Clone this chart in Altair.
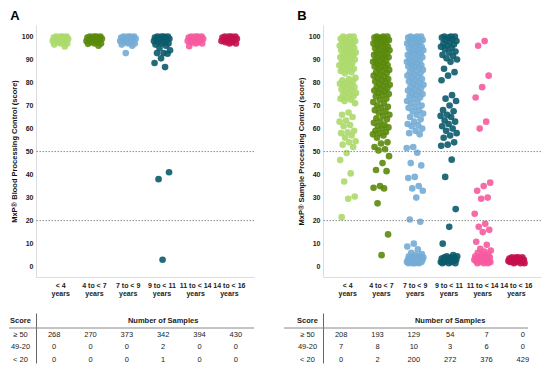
import altair as alt
import pandas as pd

cats = ["< 4 years", "4 to < 7 years", "7 to < 9 years", "9 to < 11 years",
        "11 to < 14 years", "14 to < 16 years"]
colors = ["#acd96b", "#5a8a0b", "#74acd6", "#0b5b6c", "#f65a9e", "#c4114d"]
row_labels = ["≥ 50", "49-20", "< 20"]
ref_lines = [50, 20]

# ---------- Panel A: MxP Blood Processing Control ----------
a_lt4 = [100, 100, 100, 100, 99.5, 99.5, 99, 99, 99, 98.5, 98.5, 98, 98, 97.5, 97.5, 97, 97, 96.5, 95.7]
a_4to7 = [100, 100, 100, 100, 99.5, 99.5, 99, 99, 99, 98.5, 98.5, 98, 98, 97.5, 97.5, 97, 97, 96.8, 96]
a_7to9 = [100, 100, 100, 100, 99.5, 99.5, 99, 99, 99, 98.5, 98.5, 98, 98, 97.5, 97.5, 97, 97, 96.5, 96, 92.8]
a_9to11 = [100, 100, 100, 100, 99.5, 99.5, 99, 99, 99, 98.5, 98.5, 98, 98, 97.5, 97.5, 97, 97, 96.5, 96,
           95, 94, 92.8, 92.8, 92.5, 90.5, 88.5, 86.7, 38, 41, 3]
a_11to14 = [100, 100, 100, 100, 99.5, 99.5, 99, 99, 99, 98.5, 98.5, 98, 98, 97.5, 97.5, 97, 97, 95.8]
a_14to16 = [100, 100, 100, 100, 99.5, 99.5, 99, 99, 99, 98.5, 98.5, 98, 98, 97.5, 97.5, 97, 97]
a_ge50 = [268, 270, 373, 342, 394, 430]
a_mid = [0, 0, 0, 2, 0, 0]
a_lt20 = [0, 0, 0, 1, 0, 0]

# ---------- Panel B: MxP Sample Processing Control ----------
b_lt4 = [100, 100, 100, 99.5, 99, 99, 98.5, 98, 98, 97.5, 97, 96.5, 96, 96, 95.5, 95, 94.5, 94, 94,
         93.5, 93, 92.5, 92, 92, 91.5, 91, 90.5, 90, 90, 89.5, 89, 88.5, 88, 87.5, 87, 86.5, 86, 85.5,
         85, 84.5, 84, 82, 81.5, 81, 80.5, 80, 79.5, 79, 78.5, 78, 77.5, 77, 76.5, 76, 75.5, 75, 74.5,
         74, 73.5, 73, 72.5, 72, 71, 67, 66, 65, 63.5, 63, 61.5, 61, 59, 58.4, 58, 57, 56, 54.5, 54,
         53, 52, 49.4, 46.3, 40.5, 37, 30.5, 29.5, 21.5]
b_4to7 = [100, 100, 100, 99.5, 99.5, 99, 99, 98.5, 98, 98, 97.5, 97, 97, 96.5, 96, 95.5, 95.5, 95, 94.5,
          94, 94, 93.5, 93, 92.5, 92.5, 92, 91.5, 91, 91, 90.5, 90, 89.5, 89, 89, 88.5, 88, 87.5, 87, 87,
          86.5, 86, 85.5, 85, 84.5, 84, 83.5, 83, 82.5, 82, 81.5, 81, 80.5, 80, 79.5, 79, 78.5, 78, 77.5,
          77, 76.5, 76, 75.5, 75, 74.5, 74, 73, 72.5, 71.5, 71, 70, 69.5, 69, 68, 67.5, 67, 66, 65.5, 64.5,
          64, 63, 62.5, 61.5, 61, 60.5, 60, 59, 58.5, 58, 57.5, 57, 56, 54, 53.5, 52, 51, 50.5,
          48, 45, 42, 41.5, 35, 34.3, 34, 27.5, 14, 5]
b_7to9 = [100, 100, 100, 99.5, 99.5, 99, 99, 98.5, 98, 98, 97.5, 97, 97, 96.5, 96, 95.5, 95.5, 95, 94.5,
          94, 94, 93.5, 93, 92.5, 92.5, 92, 91.5, 91, 91, 90.5, 90, 89.5, 89, 89, 88.5, 88, 87.5, 87, 87,
          86.5, 86, 85.5, 85, 84.5, 84, 83.5, 83, 82.5, 82, 81.5, 81, 80.5, 80, 79.5, 79, 78.5, 78, 77.5,
          77, 76.5, 76, 75.5, 75, 74.5, 74, 73.5, 73, 72, 71.5, 71, 70, 69.5, 69, 68, 67.5, 66.5, 66, 65,
          64, 63, 62, 61.5, 61, 60, 59, 58, 57.5, 52, 51.5, 49.5, 45, 44, 39, 38.5, 35, 34, 33, 30, 20.5,
          19.5, 10, 8.7, 7.5, 6, 5.5, 5, 4.5, 4.5, 4, 4, 4, 3.5, 3.5, 3.5, 3, 3, 3, 3, 2.5, 2.5, 2.5, 2.5,
          2, 2, 2, 2, 1.5, 1.5, 1.5, 1.5]
b_9to11 = [100, 100, 100, 99.5, 99.5, 99, 98.5, 98, 97.5, 97, 96.5, 96, 95.5, 95, 94.5, 93.5, 93, 92,
           91.5, 90.5, 90, 89, 86, 84.5, 83, 81, 74.5, 73, 72, 70, 68, 67.5, 66, 65.5, 65, 63.5, 63, 62,
           61, 60, 59, 58, 57, 56, 54, 53, 52.5, 46.5, 39, 25, 17.3, 10,
           5, 4.5, 4.5, 4, 4, 4, 3.5, 3.5, 3.5, 3, 3, 3, 2.5, 2.5, 2.5, 2, 2, 2, 1.5, 1.5, 1.5]
b_11to14 = [98, 96, 83, 78, 73.5, 63, 60, 36.5, 35, 33, 30, 29.5, 23, 18.6, 17.3, 16, 15, 10.8, 9.5,
            7.8, 7, 6.5, 6, 5.5, 5, 4.5, 4.5, 4, 4, 4, 3.5, 3.5, 3.5, 3, 3, 3, 2.5, 2.5, 2.5, 2, 2, 2,
            1.5, 1.5, 1.5]
b_14to16 = [4, 4, 4, 4, 3.5, 3.5, 3.5, 3, 3, 3, 3, 2.5, 2.5, 2.5, 2, 2, 2, 2, 1.5, 1.5, 1.5]
b_ge50 = [208, 193, 129, 54, 7, 0]
b_mid = [7, 8, 10, 3, 6, 0]
b_lt20 = [0, 2, 200, 272, 376, 429]

WIDTH = 218
HEIGHT = 252
TABLE_H = 50
PAD_OUT = 0.23
STEP = WIDTH / (6 + 2 * PAD_OUT)
HALF = STEP / 2
FONT = "Liberation Sans"


def points_frame(lists):
    recs = []
    for c, vals in zip(cats, lists):
        for v in vals:
            recs.append({"cat": c, "score": v})
    return pd.DataFrame(recs)


def table_frame(ge50, mid, lt20):
    recs = []
    for row, vals in zip(row_labels, [ge50, mid, lt20]):
        for c, v in zip(cats, vals):
            recs.append({"cat": c, "row": row, "n": str(v)})
    return pd.DataFrame(recs)


def panel(letter, ytitle, lists, counts, rule_left, rule_right):
    xscale = alt.Scale(domain=cats, paddingInner=0, paddingOuter=PAD_OUT)
    yscale = alt.Scale(domain=[-4.5, 105], nice=False, zero=False)
    yaxis = alt.Axis(title=ytitle, values=list(range(0, 101, 10)), grid=False, ticks=False,
                     domainColor="#dddddd", labelFontSize=7, labelFontWeight="bold",
                     labelColor="#222222", labelPadding=3, titleFontSize=7.5,
                     titleFontWeight="bold", titleColor="#111111", titlePadding=3)
    dots = alt.Chart(points_frame(lists)).transform_window(
        i="row_number()", groupby=["cat"]
    ).transform_calculate(
        jit="((datum.i * 0.6180339887) % 1) - 0.5"
    ).mark_circle(size=44, opacity=0.9).encode(
        x=alt.X("cat:N", scale=xscale, sort=cats,
                axis=alt.Axis(title=None, labelAngle=0, ticks=False, domainColor="#dddddd",
                              labelExpr="[replace(datum.label, ' years', ''), 'years']",
                              labelFontSize=7, labelFontWeight="bold", labelColor="#222222",
                              labelPadding=4, labelLineHeight=8.5)),
        xOffset=alt.XOffset("jit:Q", scale=alt.Scale(domain=[-0.5, 0.5],
                                                     range=[HALF - 8.5, HALF + 8.5])),
        y=alt.Y("score:Q", scale=yscale, axis=yaxis),
        color=alt.Color("cat:N", scale=alt.Scale(domain=cats, range=colors), legend=None),
    )
    refs = alt.Chart(pd.DataFrame({"ref": ref_lines})).mark_rule(
        color="#8c8c8c", strokeDash=[1.5, 1.5], strokeWidth=1
    ).encode(y=alt.Y("ref:Q", scale=yscale, axis=yaxis))
    scatter = alt.layer(dots, refs).properties(
        width=WIDTH, height=HEIGHT,
        title=alt.TitleParams(letter, anchor="start", fontSize=13, fontWeight="bold",
                              offset=2, color="#000000"),
    )

    yt = alt.Scale(domain=["Score"] + row_labels, paddingInner=0, paddingOuter=0)
    xt = alt.Scale(domain=cats, paddingInner=0, paddingOuter=PAD_OUT)
    yaxis_t = alt.Axis(title=None, ticks=False, domainColor="#666666", labelAlign="center",
                       labelPadding=16, labelFontSize=7.5, labelColor="#222222",
                       labelOffset={"condition": {"test": "datum.value === 'Score'",
                                                  "value": 1.5}, "value": 3},
                       labelFontWeight={"condition": {"test": "datum.value === 'Score'",
                                                      "value": "bold"}, "value": "normal"})
    nums = alt.Chart(table_frame(*counts)).mark_text(fontSize=7.5, color="#222222", dy=3).encode(
        x=alt.X("cat:N", scale=xt, sort=cats, axis=None),
        y=alt.Y("row:N", scale=yt, axis=yaxis_t),
        text="n:N",
    )
    head = alt.Chart(pd.DataFrame({"h": ["Number of Samples"]})).mark_text(
        fontSize=7.5, fontWeight="bold", color="#222222", dy=1.5
    ).encode(
        x=alt.XDatum("9 to < 11 years", type="nominal", scale=xt, bandPosition=0),
        y=alt.YDatum("Score", type="nominal", scale=yt),
        text="h:N",
    )
    line = alt.Chart(pd.DataFrame({"r": ["≥ 50"]})).mark_rule(color="#888888").encode(
        y=alt.Y("r:N", scale=yt, bandPosition=0.2),
        x=alt.value(rule_left), x2=alt.value(rule_right),
    )
    table = alt.layer(nums, head, line).properties(width=WIDTH, height=TABLE_H)
    return alt.vconcat(scatter, table, spacing=36, bounds="flush")


panel_a = panel("A", "MxP® Blood Processing Control  (score)",
                [a_lt4, a_4to7, a_7to9, a_9to11, a_11to14, a_14to16],
                (a_ge50, a_mid, a_lt20), -27, WIDTH)
panel_b = panel("B", "MxP® Sample Processing Control (score)",
                [b_lt4, b_4to7, b_7to9, b_9to11, b_11to14, b_14to16],
                (b_ge50, b_mid, b_lt20), -39, 205)

chart = alt.hconcat(panel_a, panel_b, spacing=28).properties(
    padding={"left": 0, "top": 2, "right": 0, "bottom": 0}
).configure(font=FONT).configure_view(stroke=None)

chart.save("out.html", embed_options={"renderer": "svg", "actions": False})
